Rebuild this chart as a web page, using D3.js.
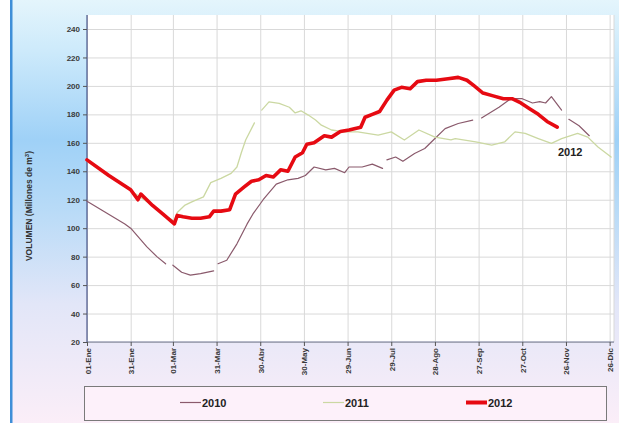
<!DOCTYPE html>
<html>
<head>
<meta charset="utf-8">
<script src="https://cdn.jsdelivr.net/npm/d3@7"></script>
<style>
  html, body { margin: 0; padding: 0; background: #ffffff; }
  svg { display: block; }
  text { font-family: "Liberation Sans", Arial, sans-serif; }
</style>
</head>
<body>
<svg id="chart" width="619" height="423"></svg>
<script>
// ---- data (day of year, volume in millones de m3); null = gap ----
const xTickDays   = [0, 30, 59, 89, 119, 149, 179, 209, 239, 269, 299, 329, 359];
const xTickLabels = ["01-Ene","31-Ene","01-Mar","31-Mar","30-Abr","30-May","29-Jun","29-Jul","28-Ago","27-Sep","27-Oct","26-Nov","26-Dic"];
const yTicks      = [20, 40, 60, 80, 100, 120, 140, 160, 180, 200, 220, 240];
const seriesNames = ["2010", "2011", "2012"];

const data2010 = [
  [0,119],[12,111.5],[26,103],[30,100],[41,87],[48,80],[54,75],[56,null],
  [59,74],[65,69],[71,67],[78,68],[87,70],[88,null],
  [90,75],[96,77.5],[103,89],[110,103],[114,110],[121,120],[130,131],[138,134],
  [145,135],[150,137],[156,143],[164,141],[170,142],[177,139],[180,143],[189,143],
  [196,145],[203,142],[204,null],[206,148],[212,150],[217,147],[225,152.5],[232,156],
  [239,163],[246,170],[255,173.6],[265,176],[268,null],[271,177.5],[283,185],[291,191],
  [299,191],[306,188],[311,189],[315,188],[319,192.5],[326,183],[328,null],
  [331,176.5],[338,172],[345,165]
];
const data2011 = [
  [0,147],[15,136.5],[30,126.5],[45,116],[55,108],[60,105],[62,111],[67,116],
  [72,118.5],[80,122],[85,132],[92,135],[99,138.5],[103,143],[106,153],[109,162],
  [115,174],[117,null],[120,183],[125,188.8],[132,187.7],[139,185],[143,181],
  [147,182.5],[152,179.5],[157,176],[161,172.4],[168,169],[177,167.7],[186,167.7],
  [200,165.4],[209,167.7],[218,162],[228,169],[239,164],[250,162],[253,163],
  [267,160.7],[278,158.4],[287,160.7],[294,167.7],[301,166.6],[310,163],[319,159.6],
  [326,163],[337,166.6],[344,164],[351,157],[360,150]
];
const data2012 = [
  [0,148],[15,137],[30,127],[35,120],[37,124],[45,116],[52,110],[60,103],[62,109],
  [66,108],[72,107],[78,107],[84,108],[87,112],[92,112],[98,113],[102,124],[108,129],
  [113,133],[118,134],[123,137],[128,136],[133,141],[138,140],[143,150],[148,153],
  [151,159],[156,160],[163,165],[168,164],[174,168],[180,169],[188,171],[191,178],
  [196,180],[201,182],[206,190],[211,197],[216,199],[222,198],[227,203],[233,204],
  [240,204],[248,205],[255,206],[261,204],[266,200],[272,195],[279,193],[286,191],
  [292,191],[298,188],[304,184],[310,180],[316,175],[323,171]
];

const colors = { "2010": "#8a5a6c", "2011": "#cbd8a2", "2012": "#e60a12" };
const widths = { "2010": 1.2, "2011": 1.3, "2012": 3.6 };

// ---- layout ----
const svg = d3.select("#chart");
const W = 619, H = 423;
const plot = { left: 87, top: 15, right: 614, bottom: 342 };

// background gradient
const defs = svg.append("defs");
const bg = defs.append("linearGradient").attr("id", "bg").attr("x1", 0).attr("y1", 0).attr("x2", 0).attr("y2", 1);
[[0, "#e4f5fc"], [0.12, "#cdeafb"], [0.33, "#9fd1f7"], [0.5, "#b9dbf7"], [0.72, "#e2e6f8"], [1, "#fbeef8"]]
  .forEach(([o, c]) => bg.append("stop").attr("offset", o).attr("stop-color", c));
svg.append("rect").attr("x", 12).attr("y", 0).attr("width", W - 12).attr("height", H).attr("fill", "url(#bg)");
svg.append("rect").attr("x", 10).attr("y", 0).attr("width", 2.5).attr("height", H).attr("fill", "#3f8fd8");

// plot area
svg.append("rect").attr("x", plot.left).attr("y", plot.top)
  .attr("width", plot.right - plot.left).attr("height", plot.bottom - plot.top).attr("fill", "#ffffff");

const x = d3.scaleLinear().domain([0, 362]).range([plot.left, plot.right]);
const y = d3.scaleLinear().domain([20, 240]).range([plot.bottom, 29]);

// gridlines
svg.append("g").attr("transform", `translate(0,${plot.bottom})`)
  .call(d3.axisBottom(x).tickValues(xTickDays).tickSize(-(plot.bottom - plot.top)).tickFormat(""))
  .call(g => g.select(".domain").remove())
  .call(g => g.selectAll("line").attr("stroke", "#d9d9d9"));
svg.append("g").attr("transform", `translate(${plot.left},0)`)
  .call(d3.axisLeft(y).tickValues(yTicks).tickSize(-(plot.right - plot.left)).tickFormat(""))
  .call(g => g.select(".domain").remove())
  .call(g => g.selectAll("line").attr("stroke", "#d9d9d9"));
svg.append("line").attr("x1", plot.right).attr("x2", plot.right).attr("y1", plot.top).attr("y2", plot.bottom)
  .attr("stroke", "#d9d9d9");

// axes
const yAxis = svg.append("g").attr("transform", `translate(${plot.left},0)`)
  .call(d3.axisLeft(y).tickValues(yTicks).tickSize(4).tickPadding(3));
yAxis.select(".domain").attr("d", `M0,${plot.top}V${plot.bottom}`).attr("stroke", "#2c3a78");
yAxis.selectAll("line").attr("stroke", "#555");
yAxis.selectAll("text").attr("font-size", 8).attr("font-weight", "bold").attr("fill", "#3a3a3a")
  .style("font-family", "'Liberation Sans', Arial, sans-serif");

const xAxis = svg.append("g").attr("transform", `translate(0,${plot.bottom})`)
  .call(d3.axisBottom(x).tickValues(xTickDays).tickSize(4).tickFormat((d, i) => xTickLabels[i]));
xAxis.select(".domain").attr("d", `M${plot.left},0H${plot.right}`).attr("stroke", "#6a7090");
xAxis.selectAll("line").attr("stroke", "#555");
xAxis.selectAll("text")
  .attr("font-size", 8).attr("font-weight", "bold").attr("fill", "#3a3a3a")
  .style("font-family", "'Liberation Sans', Arial, sans-serif")
  .attr("text-anchor", "end").attr("dy", null).attr("y", 0)
  .attr("transform", "translate(3,6) rotate(-90)");

// lines
const line = d3.line().defined(d => d[1] !== null).x(d => x(d[0])).y(d => y(d[1]));
const allData = { "2010": data2010, "2011": data2011, "2012": data2012 };
seriesNames.forEach(name => {
  svg.append("path").datum(allData[name]).attr("d", line)
    .attr("fill", "none").attr("stroke", colors[name]).attr("stroke-width", widths[name])
    .attr("stroke-linejoin", "round").attr("stroke-linecap", "round");
});

// series label
svg.append("text").attr("x", 558).attr("y", 156).text("2012")
  .attr("font-size", 11).attr("font-weight", "bold").attr("fill", "#222");

// y axis title
const yt = svg.append("text").attr("transform", "translate(32,206) rotate(-90)")
  .attr("text-anchor", "middle").attr("font-size", 8.5).attr("font-weight", "bold").attr("fill", "#333");
yt.append("tspan").text("VOLUMEN (Millones de m");
yt.append("tspan").text("3").attr("font-size", 6).attr("dy", -3);
yt.append("tspan").text(")").attr("dy", 3);

// legend
svg.append("rect").attr("x", 84.5).attr("y", 386.5).attr("width", 522).attr("height", 34)
  .attr("fill", "#fdf1fa").attr("stroke", "#7a7a7a").attr("stroke-width", 1);
const legendX = { "2010": 180, "2011": 323, "2012": 466 };
seriesNames.forEach(name => {
  const lx = legendX[name];
  svg.append("line").attr("x1", lx).attr("x2", lx + 21).attr("y1", 402.5).attr("y2", 402.5)
    .attr("stroke", colors[name]).attr("stroke-width", name === "2012" ? 4 : 1.2);
  svg.append("text").attr("x", lx + 22).attr("y", 406.5).text(name)
    .attr("font-size", 11).attr("font-weight", "bold").attr("fill", "#222");
});
</script>
</body>
</html>
